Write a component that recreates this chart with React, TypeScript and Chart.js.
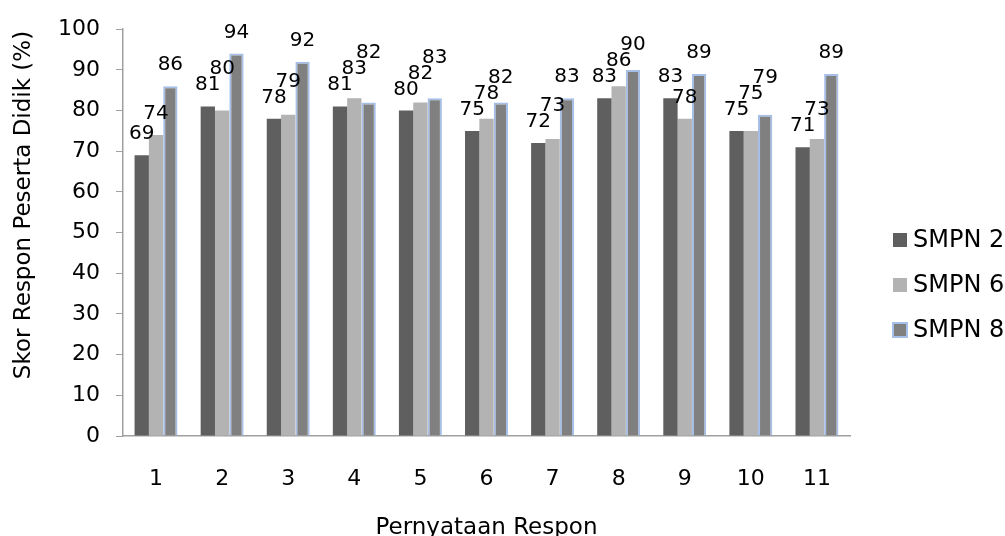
import React, { useEffect, useRef } from "react";
import { Chart, registerables } from "chart.js";

Chart.register(...registerables);

const categories = ["1", "2", "3", "4", "5", "6", "7", "8", "9", "10", "11"];
const seriesNames = ["SMPN 2", "SMPN 6", "SMPN 8"];
const smpn2 = [69, 81, 78, 81, 80, 75, 72, 83, 83, 75, 71];
const smpn6 = [74, 80, 79, 83, 82, 78, 73, 86, 78, 75, 73];
const smpn8 = [86, 94, 92, 82, 83, 82, 83, 90, 89, 79, 89];
const yMin = 0;
const yMax = 100;
const yStep = 10;
const yTitle = "Skor Respon Peserta Didik (%)";
const xTitle = "Pernyataan Respon";

const FONT = '"DejaVu Sans", Verdana, sans-serif';

const valueLabels = {
  id: "valueLabels",
  afterDatasetsDraw(chart: any) {
    const ctx = chart.ctx;
    ctx.save();
    ctx.font = `20px ${FONT}`;
    ctx.fillStyle = "#000";
    ctx.textAlign = "center";
    ctx.textBaseline = "alphabetic";
    const glyphH = 16;
    const n = chart.data.labels.length;
    for (let i = 0; i < n; i++) {
      const placed: { x: number; w: number; base: number }[] = [];
      chart.data.datasets.forEach((ds: any, d: number) => {
        const meta = chart.getDatasetMeta(d);
        const el = meta.data[i];
        if (!el) return;
        const text = String(ds.data[i]);
        const w = ctx.measureText(text).width;
        let base = el.y - 16;
        let moved = true;
        let guard = 0;
        while (moved && guard < 10) {
          moved = false;
          guard++;
          for (const p of placed) {
            const hOverlap = Math.abs(el.x - p.x) < (w + p.w) / 2 - 2;
            const vOverlap = base > p.base - glyphH && base < p.base + glyphH;
            if (hOverlap && vOverlap) {
              base = p.base - glyphH;
              moved = true;
            }
          }
        }
        placed.push({ x: el.x, w, base });
        ctx.fillText(text, el.x, base);
      });
    }
    ctx.restore();
  },
};

const sideLegendAndTitle = {
  id: "sideLegendAndTitle",
  afterDraw(chart: any) {
    const ctx = chart.ctx;
    ctx.save();
    // vertical axis title
    ctx.font = `23px ${FONT}`;
    ctx.fillStyle = "#000";
    ctx.textAlign = "center";
    ctx.textBaseline = "middle";
    ctx.translate(24, 205);
    ctx.rotate(-Math.PI / 2);
    ctx.fillText(yTitle, 0, 0);
    ctx.restore();

    ctx.save();
    ctx.font = `24px ${FONT}`;
    ctx.textAlign = "left";
    ctx.textBaseline = "middle";
    const x0 = chart.chartArea.right + 43;
    const centerY = 285;
    const spacing = 45;
    const count = chart.data.datasets.length;
    chart.data.datasets.forEach((ds: any, d: number) => {
      const y = centerY + (d - (count - 1) / 2) * spacing;
      ctx.fillStyle = ds.backgroundColor;
      ctx.fillRect(x0, y - 7, 14, 14);
      if (ds.borderWidth) {
        ctx.strokeStyle = ds.borderColor;
        ctx.lineWidth = 2;
        ctx.strokeRect(x0, y - 7, 14, 14);
      }
      ctx.fillStyle = "#000";
      ctx.fillText(ds.label, x0 + 20, y + 1);
    });
    ctx.restore();
  },
};

export default function App() {
  const canvasRef = useRef<HTMLCanvasElement | null>(null);

  useEffect(() => {
    if (!canvasRef.current) return;
    const chart = new Chart(canvasRef.current, {
      type: "bar",
      data: {
        labels: categories,
        datasets: [
          {
            label: seriesNames[0],
            data: smpn2,
            backgroundColor: "#5f5f5f",
            borderWidth: 0,
          },
          {
            label: seriesNames[1],
            data: smpn6,
            backgroundColor: "#b3b3b3",
            borderWidth: 0,
          },
          {
            label: seriesNames[2],
            data: smpn8,
            backgroundColor: "#808080",
            borderColor: "#a6bfe8",
            borderWidth: 2,
          },
        ],
      },
      options: {
        animation: false,
        responsive: false,
        maintainAspectRatio: false,
        layout: { padding: { top: 25, right: 155, bottom: 0, left: 0 } },
        datasets: {
          bar: { categoryPercentage: 0.65, barPercentage: 1.0 },
        },
        plugins: {
          legend: { display: false },
          tooltip: { enabled: false },
          title: { display: false },
        },
        scales: {
          x: {
            grid: { display: false },
            border: { display: true, color: "#a0a0a0", width: 1.5 },
            ticks: {
              color: "#000",
              font: { family: FONT, size: 22 },
              padding: 22,
              maxRotation: 0,
            },
            title: {
              display: true,
              text: xTitle,
              color: "#000",
              font: { family: FONT, size: 23, lineHeight: 1 },
              padding: { top: 0, bottom: -4 },
            },
            afterFit(scale: any) {
              scale.height = 100;
            },
          },
          y: {
            min: yMin,
            max: yMax,
            ticks: {
              stepSize: yStep,
              color: "#000",
              font: { family: FONT, size: 22 },
              padding: 16,
            },
            grid: {
              drawOnChartArea: false,
              drawTicks: true,
              tickLength: 7,
              color: "#a0a0a0",
            },
            border: { display: true, color: "#a0a0a0", width: 1.5 },
            title: { display: false },
            afterFit(scale: any) {
              scale.width = 123;
            },
          },
        },
      },
      plugins: [valueLabels, sideLegendAndTitle],
    });
    return () => chart.destroy();
  }, []);

  return (
    <div style={{ position: "absolute", left: 0, top: 0, width: 1005, height: 536, background: "#fff" }}>
      <canvas ref={canvasRef} width={1005} height={536} style={{ width: 1005, height: 536 }} />
    </div>
  );
}
